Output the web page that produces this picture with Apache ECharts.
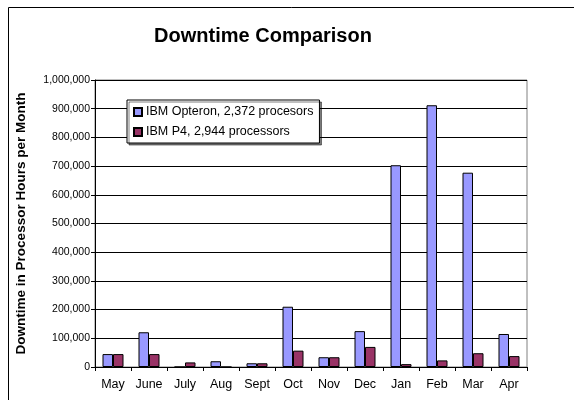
<!DOCTYPE html>
<html>
<head>
<meta charset="utf-8">
<script src="https://cdn.jsdelivr.net/npm/echarts@6/dist/echarts.min.js"></script>
<style>
  html, body { margin: 0; padding: 0; background: #fff; }
  #main { width: 574px; height: 400px; }
</style>
</head>
<body>
<div id="main"></div>
<script>
// data
var months = ['May', 'June', 'July', 'Aug', 'Sept', 'Oct', 'Nov', 'Dec', 'Jan', 'Feb', 'Mar', 'Apr'];
var opteron = [45000, 121000, 0, 20000, 13000, 210000, 34000, 125000, 703000, 912000, 677000, 115000];
var p4 = [45000, 45000, 16000, 0, 13000, 57000, 34000, 70000, 10000, 23000, 48000, 38000];
var seriesNames = ['IBM Opteron, 2,372 procesors', 'IBM P4, 2,944 processors'];

var myChart = echarts.init(document.getElementById('main'));
var font = 'Liberation Sans, Arial, sans-serif';

myChart.setOption({
    backgroundColor: '#fff',
    animation: false,
    title: {
        text: 'Downtime Comparison',
        left: 258,
        textAlign: 'center',
        top: 21,
        textStyle: { fontFamily: font, fontSize: 20, fontWeight: 'bold', color: '#000' }
    },
    graphic: [{
        type: 'rect',
        shape: { x: 8.5, y: 7.5, width: 700, height: 500 },
        style: { fill: 'none', stroke: '#000', lineWidth: 1 },
        z: -1
    }],
    legend: {
        data: seriesNames,
        orient: 'vertical',
        left: 127,
        top: 100,
        itemWidth: 8,
        itemHeight: 8,
        itemGap: 6,
        padding: [5, 6, 4, 6],
        backgroundColor: '#fff',
        borderColor: '#000',
        borderWidth: 1,
        shadowColor: 'rgba(0,0,0,0.5)',
        shadowOffsetX: 2,
        shadowOffsetY: 2,
        icon: 'rect',
        textStyle: { fontFamily: font, fontSize: 12.5, color: '#000', padding: [0, 0, 0, -1], lineHeight: 14 }
    },
    grid: {
        left: 95,
        right: 47,
        top: 80,
        bottom: 33,
        show: true,
        borderColor: '#808080',
        borderWidth: 1
    },
    xAxis: {
        type: 'category',
        data: months,
        axisLine: { lineStyle: { color: '#000' } },
        axisTick: { show: true, length: 4, inside: false, lineStyle: { color: '#000' } },
        axisLabel: { fontFamily: font, fontSize: 12.5, color: '#000', margin: 11 }
    },
    yAxis: {
        type: 'value',
        min: 0,
        max: 1000000,
        interval: 100000,
        name: 'Downtime in Processor Hours per Month',
        nameLocation: 'middle',
        nameGap: 67,
        nameTextStyle: { fontFamily: font, fontSize: 13.5, fontWeight: 'bold', color: '#000' },
        axisLine: { show: true, lineStyle: { color: '#000' } },
        axisTick: { show: true, length: 4, lineStyle: { color: '#000' } },
        axisLabel: {
            fontFamily: font,
            fontSize: 10.5,
            color: '#000',
            margin: 5,
            formatter: function (v) { return v.toLocaleString('en-US'); }
        },
        splitLine: { show: true, lineStyle: { color: '#000', width: 1 } }
    },
    series: [{
        name: seriesNames[0],
        type: 'bar',
        data: opteron,
        barWidth: 10.5,
        barGap: '0%',
        itemStyle: { color: '#9999FF', borderColor: '#000', borderWidth: 1 }
    }, {
        name: seriesNames[1],
        type: 'bar',
        data: p4,
        barWidth: 10.5,
        barGap: '0%',
        itemStyle: { color: '#993366', borderColor: '#000', borderWidth: 1 }
    }]
});
</script>
</body>
</html>
